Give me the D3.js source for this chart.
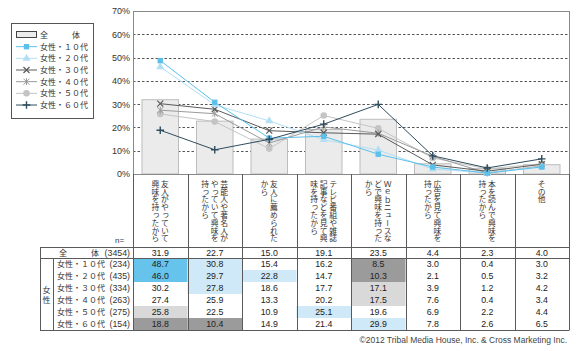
<!DOCTYPE html>
<html>
<head>
<meta charset="utf-8">
<script src="https://cdn.jsdelivr.net/npm/d3@7"></script>
<style>
body{margin:0;background:#fff;}
</style>
</head>
<body>
<div id="chart"></div>
<script>
let w=580;
let h=351;

// data
let categories=[
  ["友人がやっていて","興味を持ったから"],
  ["芸能人や著名人が","やっていて興味を","持ったから"],
  ["友人に薦められた","から"],
  ["テレビ番組や雑誌","記事などを見て興","味を持ったから"],
  ["Ｗｅｂニュースな","どで興味を持った","から"],
  ["広告を見て興味を","持ったから"],
  ["本を読んで興味を","持ったから"],
  ["その他"]
];
let groupNames=["全　　　体","女性・１０代","女性・２０代","女性・３０代","女性・４０代","女性・５０代","女性・６０代"];
let sampleSizes=[3454,234,435,334,263,275,154];
let total=[31.9,22.7,15.0,19.1,23.5,4.4,2.3,4.0];
let women10=[48.7,30.8,15.4,16.2,8.5,3.0,0.4,3.0];
let women20=[46.0,29.7,22.8,14.7,10.3,2.1,0.5,3.2];
let women30=[30.2,27.8,18.6,17.7,17.1,3.9,1.2,4.2];
let women40=[27.4,25.9,13.3,20.2,17.5,7.6,0.4,3.4];
let women50=[25.8,22.5,10.9,25.1,19.6,6.9,2.2,4.4];
let women60=[18.8,10.4,14.9,21.4,29.9,7.8,2.6,6.5];
let yTicks=[0,10,20,30,40,50,60,70];

let series=[women10,women20,women30,women40,women50,women60];
let allRows=[total].concat(series);

// styles for each line series
let lineStyles=[
  {color:"#5cc0ea",marker:"square"},
  {color:"#b3dff4",marker:"triangle"},
  {color:"#5a5a5a",marker:"x"},
  {color:"#9a9a9a",marker:"asterisk"},
  {color:"#c4c4c4",marker:"circle"},
  {color:"#2f4c5e",marker:"plus"}
];

let jp="'Noto Sans CJK JP','Noto Sans',sans-serif";
let lat="'Liberation Sans',Arial,sans-serif";

let svg=d3.select("#chart").append("svg")
  .attr("width",w)
  .attr("height",h)
  .style("display","block");

let plotL=133, plotR=569, plotT=11, plotB=174;

let xScale=d3.scaleBand().domain(d3.range(categories.length)).range([plotL,plotR]);
let yScale=d3.scaleLinear().domain([0,70]).range([plotB,plotT]);
let bw=xScale.bandwidth();

// gridlines
svg.selectAll(".grid").data(yTicks.filter(d=>d>0&&d<70)).enter()
  .append("line")
  .attr("x1",plotL).attr("x2",plotR)
  .attr("y1",d=>Math.round(yScale(d))+0.5)
  .attr("y2",d=>Math.round(yScale(d))+0.5)
  .attr("stroke","#555")
  .attr("stroke-dasharray","2.5,2")
  .attr("stroke-width",1);

// y axis labels
let yAxis=d3.axisLeft(yScale).tickValues(yTicks).tickFormat(d=>d+"%").tickSize(0).tickPadding(3);
let yAxisGroup=svg.append("g").attr("transform","translate("+plotL+",0)").call(yAxis);
yAxisGroup.select(".domain").remove();
yAxisGroup.selectAll("text").style("font-family",lat).style("font-size","9px").attr("fill","#333");

// bars for total
let barW=bw*0.67;
svg.selectAll(".bar").data(total).enter()
  .append("rect")
  .attr("x",(d,i)=>xScale(i)+(bw-barW)/2)
  .attr("y",d=>yScale(d))
  .attr("width",barW)
  .attr("height",d=>plotB-yScale(d))
  .attr("fill","#ebebeb")
  .attr("stroke","#bdbdbd")
  .attr("stroke-width",1);

// plot frame
svg.append("rect")
  .attr("x",plotL+0.5).attr("y",plotT+0.5)
  .attr("width",plotR-plotL).attr("height",plotB-plotT)
  .attr("fill","none").attr("stroke","#888");

// markers
function drawMarker(g,type,color){
  if(type=="square"){
    g.append("rect").attr("x",-2.7).attr("y",-2.7).attr("width",5.4).attr("height",5.4).attr("fill",color);
  }else if(type=="triangle"){
    g.append("path").attr("d",d3.symbol(d3.symbolTriangle,28)()).attr("fill",color);
  }else if(type=="x"){
    g.append("path").attr("d","M-3,-3L3,3M-3,3L3,-3").attr("stroke",color).attr("stroke-width",1.2);
  }else if(type=="asterisk"){
    g.append("path").attr("d","M-3,-3L3,3M-3,3L3,-3M0,-3.5L0,3.5").attr("stroke",color).attr("stroke-width",1);
  }else if(type=="circle"){
    g.append("circle").attr("r",3.3).attr("fill",color);
  }else if(type=="plus"){
    g.append("path").attr("d","M-3.8,0L3.8,0M0,-3.8L0,3.8").attr("stroke",color).attr("stroke-width",1.4);
  }
}

let lineMaker=d3.line().x((d,i)=>xScale(i)+bw/2).y(d=>yScale(d));

let drawOrder=[4,3,2,1,0,5];
drawOrder.forEach(function(k){
  let st=lineStyles[k];
  svg.append("path")
    .datum(series[k])
    .attr("d",lineMaker)
    .attr("fill","none")
    .attr("stroke",st.color)
    .attr("stroke-width",1);
  series[k].forEach(function(v,i){
    let g=svg.append("g").attr("transform","translate("+(xScale(i)+bw/2)+","+yScale(v)+")");
    drawMarker(g,st.marker,st.color);
  });
});

// legend
svg.append("rect").attr("x",11.5).attr("y",23.5).attr("width",82).attr("height",95)
  .attr("fill","#fff").attr("stroke","#555");
let legY=d3.range(7).map(i=>35+i*11.67);
svg.append("rect").attr("x",16.5).attr("y",legY[0]-3.5).attr("width",20).attr("height",6)
  .attr("fill","#ebebeb").attr("stroke","#444");
lineStyles.forEach(function(st,k){
  let yy=legY[k+1];
  svg.append("line").attr("x1",16).attr("x2",37).attr("y1",yy).attr("y2",yy)
    .attr("stroke",st.color).attr("stroke-width",1);
  let g=svg.append("g").attr("transform","translate(26.5,"+yy+")");
  drawMarker(g,st.marker,st.color);
});
svg.selectAll(".legtext").data(groupNames).enter()
  .append("text")
  .attr("x",40)
  .attr("y",(d,i)=>legY[i]+3)
  .text(d=>d)
  .style("font-family",jp)
  .style("font-size","8px")
  .attr("fill","#333");

// table
let tableL=40, groupR=53;
let headTop=plotB, rowTop=247, totalH=11, rowH=12;
let womenTop=rowTop+totalH;
let tableB=womenTop+rowH*6;
function rowY(r){ return r==0?rowTop:womenTop+(r-1)*rowH; }
function rowHeight(r){ return r==0?totalH:rowH; }

// cell shading by difference from total
function shade(r,c){
  if(r==0) return null;
  let d=allRows[r][c]-total[c];
  if(d>=10) return "#66c3ec";
  if(d>=5) return "#cfe9f8";
  if(d<=-10) return "#9b9b9b";
  if(d<=-5) return "#d9d9d9";
  return null;
}
allRows.forEach(function(row,r){
  row.forEach(function(v,c){
    let col=shade(r,c);
    if(col){
      svg.append("rect").attr("x",xScale(c)).attr("y",rowY(r))
        .attr("width",bw).attr("height",rowHeight(r)).attr("fill",col);
    }
    svg.append("text")
      .attr("x",xScale(c)+bw/2)
      .attr("y",rowY(r)+rowHeight(r)/2+3.2)
      .attr("text-anchor","middle")
      .text(v.toFixed(1))
      .style("font-family",lat)
      .style("font-size","8.8px")
      .attr("fill","#222");
  });
});

// table lines
let lc="#5a5a5a";
[rowTop,womenTop,tableB].forEach(function(yy){
  svg.append("line").attr("x1",tableL).attr("x2",plotR).attr("y1",yy+0.5).attr("y2",yy+0.5).attr("stroke",lc);
});
d3.range(categories.length+1).forEach(function(i){
  let xx=i<categories.length?xScale(i):plotR;
  svg.append("line").attr("x1",Math.round(xx)+0.5).attr("x2",Math.round(xx)+0.5)
    .attr("y1",headTop).attr("y2",tableB+0.5).attr("stroke",lc);
});
svg.append("line").attr("x1",tableL+0.5).attr("x2",tableL+0.5).attr("y1",rowTop).attr("y2",tableB+0.5).attr("stroke",lc);
svg.append("line").attr("x1",groupR+0.5).attr("x2",groupR+0.5).attr("y1",womenTop).attr("y2",tableB+0.5).attr("stroke",lc);

// header (vertical text)
let lineGap=9.5;
categories.forEach(function(lines,c){
  let cx=xScale(c)+bw/2;
  lines.forEach(function(t,j){
    svg.append("text")
      .attr("x",cx+(lines.length-1)/2*lineGap-j*lineGap)
      .attr("y",180)
      .text(t)
      .style("writing-mode","vertical-rl")
      .style("font-family",jp)
      .style("font-size","7.8px")
      .attr("fill","#333");
  });
});

svg.append("text").attr("x",115).attr("y",243).text("n=")
  .style("font-family",lat).style("font-size","8px").attr("fill","#333");

// row labels
groupNames.forEach(function(g,r){
  let yy=rowY(r)+rowHeight(r)/2+3;
  svg.append("text").attr("x",r==0?59:57).attr("y",yy).text(g)
    .style("font-family",jp).style("font-size","8px").attr("fill","#333");
  svg.append("text").attr("x",130).attr("y",yy+0.2).attr("text-anchor","end").text("("+sampleSizes[r]+")")
    .style("font-family",lat).style("font-size","8.8px").attr("fill","#333");
});
svg.append("text").attr("x",46.5).attr("y",womenTop+rowH*3-1).text("女")
  .attr("text-anchor","middle").style("font-family",jp).style("font-size","8px").attr("fill","#333");
svg.append("text").attr("x",46.5).attr("y",womenTop+rowH*3+9).text("性")
  .attr("text-anchor","middle").style("font-family",jp).style("font-size","8px").attr("fill","#333");

// copyright
svg.append("text").attr("x",567).attr("y",343).attr("text-anchor","end")
  .text("©2012 Tribal Media House, Inc. & Cross Marketing Inc.")
  .style("font-family",lat).style("font-size","8.5px").attr("fill","#444");
</script>
</body>
</html>
